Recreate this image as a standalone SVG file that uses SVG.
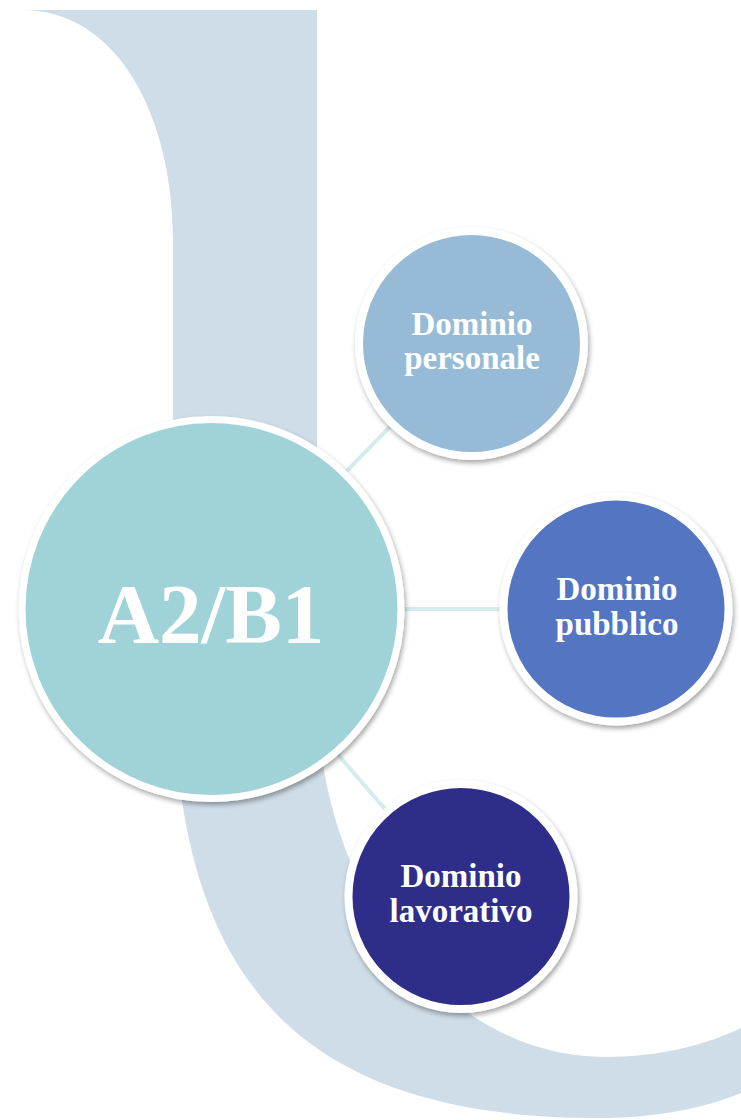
<svg xmlns="http://www.w3.org/2000/svg" width="741" height="1120" viewBox="0 0 741 1120">
  <style>
    .node-ring { stroke: #ffffff; filter: url(#shadow); }
    .lbl { font-family: "Liberation Serif", "Times New Roman", serif; font-weight: bold; fill: #ffffff; text-anchor: middle; }
    .small { font-size: 33px; }
    .big { font-size: 85px; }
    .conn { stroke: #D5ECEC; stroke-width: 4; fill: none; }
  </style>
  <defs>
    <filter id="shadow" x="-20%" y="-20%" width="140%" height="140%">
      <feDropShadow dx="1.5" dy="3" stdDeviation="2.5" flood-color="#000000" flood-opacity="0.35"/>
    </filter>
  </defs>
  <rect width="741" height="1120" fill="#ffffff"/>
  <g id="background">
    <path fill="#CFDDE8" d="M22,10 L317,10 L317,690 C317,892 446,1057 605,1057 C660,1057 705,1045 741,1028 L741,1093 C705,1108 655,1118 600,1118 C301,1118 173,984 173,671 L173,240 C173,120 120,10 22,10 Z"/>
  </g>
  <g id="connectors">
    <line class="conn" x1="211.5" y1="609" x2="471.5" y2="343.5"/>
    <line class="conn" x1="211.5" y1="609" x2="616" y2="609"/>
    <line class="conn" x1="211.5" y1="609" x2="461" y2="896.5"/>
  </g>
  <g id="node-a2b1">
    <circle class="node-ring" cx="211.5" cy="609" r="189.5" fill="#9FD3D7" stroke-width="7"/>
    <text class="lbl big" x="211" y="643">A2/B1</text>
  </g>
  <g id="node-personale">
    <circle class="node-ring" cx="471.5" cy="343.5" r="112.5" fill="#97BBD6" stroke-width="8"/>
    <text class="lbl small" x="472" y="335">Dominio</text>
    <text class="lbl small" x="472" y="369">personale</text>
  </g>
  <g id="node-pubblico">
    <circle class="node-ring" cx="616" cy="609" r="112.5" fill="#5274C2" stroke-width="8"/>
    <text class="lbl small" x="617" y="600">Dominio</text>
    <text class="lbl small" x="617" y="635">pubblico</text>
  </g>
  <g id="node-lavorativo">
    <circle class="node-ring" cx="461" cy="896.5" r="112.5" fill="#2E2E8A" stroke-width="8"/>
    <text class="lbl small" x="461" y="887">Dominio</text>
    <text class="lbl small" x="461" y="922">lavorativo</text>
  </g>
</svg>
